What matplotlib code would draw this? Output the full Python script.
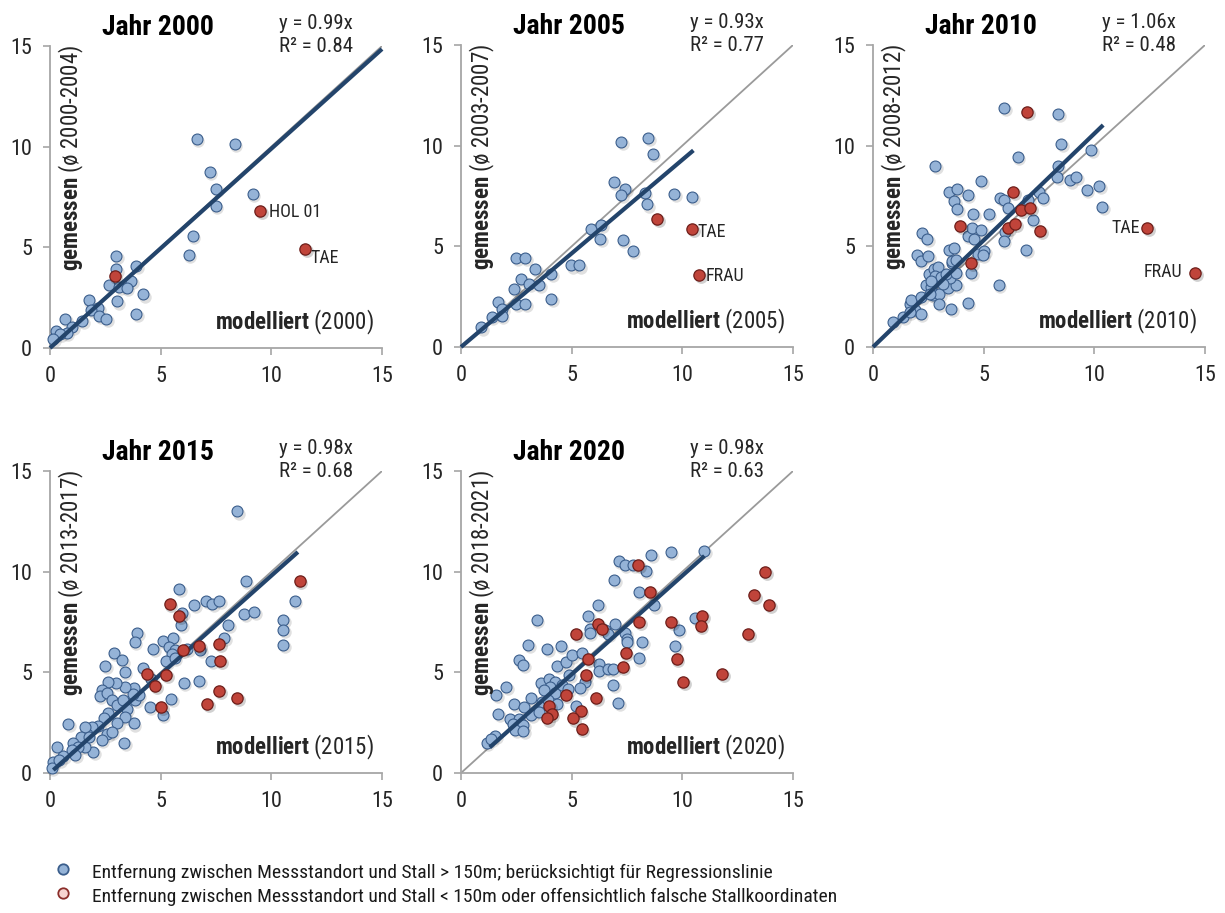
import numpy as np
import matplotlib.pyplot as plt
from matplotlib.lines import Line2D
from matplotlib.transforms import offset_copy

plt.rcParams['font.family'] = ['Roboto Condensed', 'DejaVu Sans']
plt.rcParams['mathtext.fontset'] = 'custom'
plt.rcParams['mathtext.rm'] = 'Roboto Condensed'
plt.rcParams['mathtext.bf'] = 'Roboto Condensed:bold'

# Jahre, Mittelungszeitraeume und Regressionsergebnisse
years = [2000, 2005, 2010, 2015, 2020]
periods = ["2000-2004", "2003-2007", "2008-2012", "2013-2017", "2018-2021"]
slopes = [0.99, 0.93, 1.06, 0.98, 0.98]
r_squared = [0.84, 0.77, 0.48, 0.68, 0.63]
fit_from = [0.0, 0.0, 0.0, 0.15, 1.3]
fit_to = [15.0, 10.5, 10.4, 11.2, 11.0]

# (modelliert, gemessen) - Standorte > 150m, in Regression
blue_2000 = [(6.62, 10.38), (8.34, 10.13), (7.22, 8.76), (7.52, 7.89), (7.48, 7.06),
             (9.15, 7.63), (6.45, 5.57), (6.27, 4.61), (2.98, 4.55), (3.0, 3.9),
             (3.88, 4.07), (3.67, 3.34), (2.67, 3.13), (3.13, 3.01), (3.47, 2.98),
             (4.22, 2.66), (3.02, 2.31), (1.74, 2.36), (2.19, 1.97), (1.85, 1.88),
             (2.22, 1.61), (2.55, 1.42), (3.9, 1.71), (1.45, 1.36), (0.7, 1.43),
             (1.0, 1.05), (0.26, 0.85), (0.76, 0.76), (0.45, 0.70), (0.13, 0.45)]
blue_2005 = [(7.24, 10.2), (8.45, 10.4), (8.66, 9.58), (6.9, 8.18), (7.43, 7.85),
             (7.24, 7.57), (8.3, 7.65), (8.41, 7.08), (9.63, 7.62), (10.43, 7.45),
             (5.88, 5.85), (6.33, 6.05), (6.3, 5.36), (7.31, 5.32), (7.75, 4.75),
             (4.97, 4.05), (5.35, 4.05), (2.48, 4.42), (2.9, 4.42), (3.35, 3.86),
             (4.06, 3.63), (2.72, 3.4), (3.08, 3.13), (3.53, 3.08), (2.4, 2.9),
             (4.08, 2.37), (1.69, 2.22), (2.48, 2.13), (2.9, 2.13), (1.87, 1.9),
             (1.39, 1.5), (1.84, 1.52), (0.92, 0.97)]
blue_2010 = [(0.9, 1.25), (1.35, 1.5), (1.65, 2.12), (1.91, 1.86), (2.15, 1.66),
             (1.65, 1.74), (1.73, 2.32), (2.18, 2.48), (2.7, 2.57), (3.0, 2.65),
             (3.0, 2.12), (3.53, 1.91), (2.4, 3.06), (2.63, 2.98), (3.38, 2.95),
             (3.75, 3.06), (2.52, 3.64), (2.75, 3.88), (2.93, 3.96), (2.78, 3.55),
             (3.08, 3.47), (3.5, 3.42), (3.31, 3.62), (3.58, 4.16), (3.73, 3.67),
             (3.16, 3.13), (2.63, 3.29), (2.59, 2.63), (3.56, 4.29), (3.75, 4.34),
             (3.45, 4.82), (3.65, 4.92), (2.0, 4.59), (2.15, 4.29), (2.48, 4.54),
             (2.21, 5.64), (2.45, 5.36), (4.43, 3.67), (4.28, 2.19), (5.68, 3.06),
             (4.73, 4.62), (5.03, 4.79), (4.96, 4.57), (4.28, 5.53), (4.58, 5.36),
             (4.47, 5.9), (4.88, 5.81), (4.53, 6.6), (5.23, 6.6), (3.45, 7.71),
             (3.8, 7.86), (4.28, 7.53), (3.68, 7.25), (3.8, 6.84), (4.88, 8.24),
             (2.82, 9.01), (6.53, 9.42), (5.75, 7.42), (5.9, 7.29), (6.08, 6.92),
             (5.96, 5.69), (5.9, 5.28), (6.91, 4.82), (7.21, 6.3), (7.0, 7.29),
             (7.5, 7.7), (7.67, 7.42), (5.92, 11.86), (8.38, 11.56), (8.5, 10.1),
             (9.86, 9.8), (8.35, 8.98), (8.32, 8.44), (8.9, 8.27), (9.18, 8.45),
             (9.65, 7.78), (10.23, 7.99), (10.35, 6.97)]
blue_2015 = [(8.46, 12.99), (8.84, 9.56), (11.06, 8.54), (5.85, 9.14), (7.07, 8.53),
             (7.33, 8.4), (7.63, 8.53), (6.52, 8.35), (5.97, 7.94), (5.94, 7.36),
             (8.76, 7.91), (9.21, 8.0), (8.05, 7.36), (7.88, 6.72), (10.53, 7.61),
             (10.53, 7.12), (10.53, 6.38), (6.77, 6.1), (7.28, 5.56), (6.75, 4.57),
             (6.04, 4.47), (5.47, 3.66), (5.09, 2.87), (3.93, 6.95), (3.82, 6.5),
             (5.09, 6.58), (5.56, 6.72), (4.65, 6.17), (5.36, 6.25), (5.66, 6.12),
             (5.51, 5.93), (6.19, 6.17), (5.26, 5.54), (5.63, 5.73), (2.87, 5.96),
             (3.25, 5.59), (2.49, 5.30), (3.37, 5.02), (4.18, 5.23), (4.58, 4.67),
             (4.5, 3.28), (3.85, 3.61), (4.0, 3.86), (3.78, 4.22), (3.73, 3.94),
             (3.40, 4.27), (2.99, 4.47), (2.64, 4.52), (2.34, 4.11), (2.24, 3.81),
             (2.57, 3.98), (2.79, 3.61), (3.02, 3.37), (3.32, 3.61), (3.47, 3.2),
             (3.78, 2.46), (3.40, 2.79), (3.02, 2.46), (2.64, 2.96), (2.42, 2.71),
             (2.19, 2.33), (1.89, 2.29), (1.66, 1.96), (1.56, 2.29), (1.40, 1.8),
             (1.06, 1.47), (0.83, 2.43), (1.96, 1.05), (1.59, 1.3), (1.28, 1.3),
             (0.98, 1.14), (1.13, 0.89), (0.6, 0.84), (0.3, 1.27), (0.15, 0.56),
             (0.08, 0.23), (0.41, 0.64), (3.35, 1.47), (2.57, 1.96), (2.34, 1.63),
             (2.79, 2.04), (1.74, 1.8)]
blue_2020 = [(10.98, 11.04), (9.48, 10.99), (8.6, 10.84), (7.13, 10.55), (7.4, 10.35),
             (7.78, 10.35), (8.35, 10.02), (6.92, 9.61), (8.02, 8.98), (8.73, 8.32),
             (6.2, 8.36), (5.76, 7.8), (5.82, 7.17), (5.82, 6.97), (6.5, 7.09),
             (6.65, 6.92), (6.95, 7.38), (9.84, 7.12), (10.59, 7.71), (7.42, 6.97),
             (7.48, 6.68), (7.48, 6.51), (8.18, 6.51), (8.02, 5.69), (9.69, 6.3),
             (6.88, 4.37), (7.1, 3.46), (6.24, 5.39), (6.24, 5.08), (6.65, 5.19),
             (6.88, 5.16), (5.18, 3.35), (3.42, 7.61), (3.04, 6.34), (3.9, 6.17),
             (4.5, 6.29), (2.64, 5.59), (2.82, 5.35), (4.35, 5.31), (4.74, 5.51),
             (5.0, 5.84), (5.45, 5.96), (5.6, 4.52), (4.89, 4.85), (5.38, 4.24),
             (3.6, 4.47), (3.98, 4.69), (4.25, 4.52), (4.02, 4.27), (3.75, 4.11),
             (4.25, 3.95), (4.55, 4.36), (4.85, 4.19), (2.03, 4.27), (1.58, 3.86),
             (2.41, 3.45), (2.85, 3.28), (3.16, 3.75), (3.65, 3.53), (3.95, 3.61),
             (4.32, 3.42), (1.69, 2.92), (2.21, 2.66), (2.64, 2.66), (2.34, 2.43),
             (2.82, 2.38), (2.44, 2.13), (2.82, 2.09), (3.16, 2.87), (3.52, 3.03),
             (1.54, 1.83), (1.16, 1.5), (1.35, 1.7)]

# Standorte < 150m bzw. falsche Stallkoordinaten (mit Namen, falls beschriftet)
red_2000 = [(2.92, 3.6, ""), (9.49, 6.8, "HOL 01"), (11.53, 4.94, "TAE")]
red_2005 = [(8.86, 6.37, ""), (10.43, 5.87, "TAE"), (10.77, 3.57, "FRAU")]
red_2010 = [(6.34, 7.71, ""), (6.97, 11.69, ""), (6.68, 6.79, ""), (7.09, 6.89, ""),
            (3.93, 6.02, ""), (6.11, 5.9, ""), (6.43, 6.1, ""), (7.54, 5.77, ""),
            (4.43, 4.18, ""), (12.4, 5.9, "TAE"), (14.55, 3.67, "FRAU")]
red_2015 = [(5.41, 8.4, ""), (5.85, 7.82, ""), (7.63, 6.39, ""), (6.75, 6.29, ""),
            (6.0, 6.1, ""), (7.7, 5.56, ""), (4.38, 4.93, ""), (5.26, 4.85, ""),
            (4.76, 4.31, ""), (7.63, 4.07, ""), (7.1, 3.45, ""), (8.46, 3.75, ""),
            (5.03, 3.28, ""), (11.28, 9.56, "")]
red_2020 = [(8.01, 10.35, ""), (13.75, 9.97, ""), (13.24, 8.82, ""), (13.92, 8.36, ""),
            (8.54, 8.98, ""), (6.2, 7.41, ""), (6.36, 7.16, ""), (8.06, 7.52, ""),
            (9.49, 7.52, ""), (10.91, 7.78, ""), (10.83, 7.3, ""), (12.97, 6.92, ""),
            (5.2, 6.92, ""), (7.44, 5.96, ""), (9.75, 5.68, ""), (11.81, 4.94, ""),
            (10.05, 4.52, ""), (7.3, 5.26, ""), (5.75, 5.68, ""), (5.63, 4.85, ""),
            (6.1, 3.73, ""), (4.73, 3.86, ""), (3.98, 3.32, ""), (4.1, 2.92, ""),
            (3.9, 2.71, ""), (5.41, 3.09, ""), (5.08, 2.71, ""), (5.45, 2.21, "")]

legend_labels = [
    "Entfernung zwischen Messstandort und Stall > 150m; berücksichtigt für Regressionslinie",
    "Entfernung zwischen Messstandort und Stall < 150m oder offensichtlich falsche Stallkoordinaten",
]

blue_points = [blue_2000, blue_2005, blue_2010, blue_2015, blue_2020]
red_points = [red_2000, red_2005, red_2010, red_2015, red_2020]

# Beschriftungsversatz (Pixel) je Jahr und Name
label_offset = {
    (2000, "HOL 01"): (9, -1, 'left'),
    (2000, "TAE"): (5, -9, 'left'),
    (2005, "TAE"): (6, -3, 'left'),
    (2005, "FRAU"): (6, -1, 'left'),
    (2010, "TAE"): (-7, 0, 'right'),
    (2010, "FRAU"): (-13, 1, 'right'),
}

BLUE_FILL = '#95B3D7'
BLUE_EDGE = '#3B5E8C'
RED_FILL = '#C0443A'
RED_EDGE = '#6E1F1B'
FIT_COLOR = '#23446B'
ONE_COLOR = '#9A9A9A'
AXIS_COLOR = '#A6A6A6'
TEXT_COLOR = '#262626'

W_PX, H_PX = 1225, 913
fig = plt.figure(figsize=(W_PX / 100, H_PX / 100), dpi=100)

# linke untere Ecke jedes Diagramms in Pixeln
panel_px = [(50, 348), (461, 347), (873, 347), (50, 773), (461, 773)]
ax_w, ax_h = 332, 302

for i, year in enumerate(years):
    left, bottom = panel_px[i]
    ax = fig.add_axes([left / W_PX, 1 - bottom / H_PX, ax_w / W_PX, ax_h / H_PX])
    ax.set_xlim(0, 15)
    ax.set_ylim(0, 15)
    ax.set_xticks([0, 5, 10, 15])
    ax.set_yticks([0, 5, 10, 15])
    for side in ['top', 'right']:
        ax.spines[side].set_visible(False)
    for side in ['left', 'bottom']:
        ax.spines[side].set_color(AXIS_COLOR)
        ax.spines[side].set_linewidth(1.3)
    ax.tick_params(length=5, width=1.2, color=AXIS_COLOR, labelsize=16,
                   labelcolor=TEXT_COLOR)
    ax.tick_params(axis='x', pad=8)
    ax.tick_params(axis='y', pad=8)

    # 1:1-Linie
    ax.plot([0, 15], [0, 15], color=ONE_COLOR, lw=1.3, zorder=1)

    shadow = offset_copy(ax.transData, fig=fig, x=1.2, y=-1.5, units='points')

    bx = np.array([p[0] for p in blue_points[i]])
    by = np.array([p[1] for p in blue_points[i]])
    ax.scatter(bx, by, s=80, color='black', alpha=0.12, lw=0,
               transform=shadow, zorder=2, clip_on=False)
    ax.scatter(bx, by, s=62, facecolor=BLUE_FILL, edgecolor=BLUE_EDGE,
               linewidths=0.8, zorder=3, clip_on=False)

    # Regressionsgerade durch den Ursprung
    xs = np.array([fit_from[i], fit_to[i]])
    ax.plot(xs, slopes[i] * xs, color=FIT_COLOR, lw=3, zorder=4,
            solid_capstyle='butt', clip_on=False)

    rx = np.array([p[0] for p in red_points[i]])
    ry = np.array([p[1] for p in red_points[i]])
    ax.scatter(rx, ry, s=85, color='black', alpha=0.18, lw=0,
               transform=shadow, zorder=5, clip_on=False)
    ax.scatter(rx, ry, s=66, facecolor=RED_FILL, edgecolor=RED_EDGE,
               linewidths=0.9, zorder=6, clip_on=False)

    for x, y, name in red_points[i]:
        if name:
            dx, dy, ha = label_offset[(year, name)]
            ax.annotate(name, (x, y), xytext=(dx, dy), textcoords='offset pixels',
                        ha=ha, va='center', fontsize=13, color=TEXT_COLOR)

    ax.text(0.325, 1.062, f"Jahr {year}", transform=ax.transAxes, ha='center',
            va='center', fontsize=20, fontweight='bold', color='black')
    ax.text(0.69, 1.075, f"y = {slopes[i]:.2f}x", transform=ax.transAxes,
            ha='left', va='center', fontsize=15, color=TEXT_COLOR)
    ax.text(0.69, 0.997, f"R² = {r_squared[i]:.2f}", transform=ax.transAxes,
            ha='left', va='center', fontsize=15, color=TEXT_COLOR)

    ax.text(0.066, 0.255, r"$\mathbf{gemessen}$" + f" (ø {periods[i]})",
            transform=ax.transAxes, rotation=90, ha='center', va='bottom',
            fontsize=16.5, color=TEXT_COLOR)
    ax.text(0.975, 0.083, r"$\mathbf{modelliert}$" + f" ({year})",
            transform=ax.transAxes, ha='right', va='center',
            fontsize=16.5, color=TEXT_COLOR)

# Legende unten links
legend_style = [(BLUE_FILL, BLUE_EDGE), ('#F7D4D0', '#8B2E2A')]
for k, label in enumerate(legend_labels):
    y = 1 - (873 + 24 * k) / H_PX
    face, edge = legend_style[k]
    fig.add_artist(Line2D([63 / W_PX], [y + 4 / H_PX], marker='o', markersize=7.5,
                          markerfacecolor=face, markeredgecolor=edge,
                          markeredgewidth=1.3, linestyle='none',
                          transform=fig.transFigure))
    fig.text(92 / W_PX, y, label, ha='left', va='center', fontsize=14,
             color='#1a1a1a')

fig.savefig("out.png", dpi=100)
